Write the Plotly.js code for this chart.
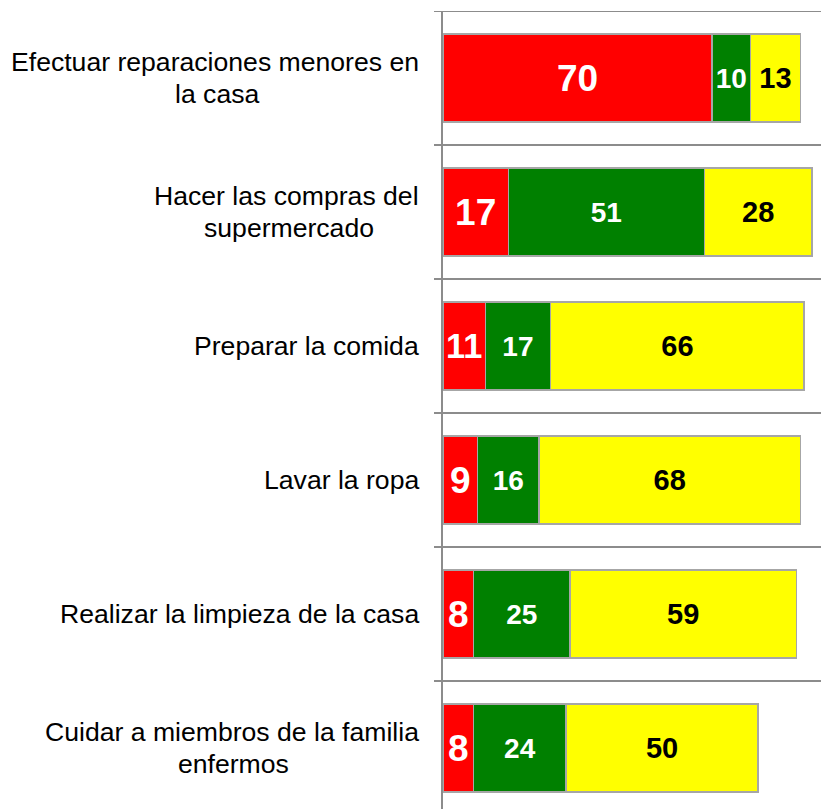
<!DOCTYPE html>
<html>
<head>
<meta charset="utf-8">
<script src="https://cdn.plot.ly/plotly-3.0.1.min.js"></script>
<style>
html, body { margin: 0; padding: 0; overflow: hidden; background: #ffffff; }
#chart { width: 821px; height: 815px; }
</style>
</head>
<body>
<div id="chart"></div>
<script>
const categories = [
  ["Efectuar reparaciones menores en", "la casa"],
  ["Hacer las compras del", "supermercado"],
  ["Preparar la comida"],
  ["Lavar la ropa"],
  ["Realizar la limpieza de la casa"],
  ["Cuidar a miembros de la familia", "enfermos"]
];
const redValues = [70, 17, 11, 9, 8, 8];
const greenValues = [10, 51, 17, 16, 25, 24];
const yellowValues = [13, 28, 66, 68, 59, 50];

const ids = categories.map((c, i) => i);
const outline = { color: "#a6a6a6", width: 1.5 };

function series(vals, color, txtColor, size) {
  return {
    type: "bar",
    orientation: "h",
    y: ids,
    x: vals,
    text: vals.map(String),
    textposition: "inside",
    insidetextanchor: "middle",
    textfont: { family: "Liberation Sans, Arial, sans-serif", size: size, color: txtColor, weight: "bold" },
    texttemplate: "<b>%{text}</b>",
    marker: { color: color, line: outline },
    width: 0.66,
    hoverinfo: "skip",
    showlegend: false
  };
}

const data = [
  series(redValues, "#ff0000", "#ffffff", 37),
  series(greenValues, "#008000", "#ffffff", 28),
  series(yellowValues, "#ffff00", "#000000", 29)
];

const shapes = [];
for (let k = 0; k <= categories.length; k++) {
  shapes.push({
    type: "line", xref: "paper", yref: "y",
    x0: -9 / 378, x1: 1, y0: k - 0.5, y1: k - 0.5,
    line: { color: "#8c8c8c", width: 2 }, layer: "below"
  });
}
shapes.push({
  type: "line", xref: "paper", yref: "paper",
  x0: -1 / 378, x1: -1 / 378, y0: 0, y1: 1,
  line: { color: "#8c8c8c", width: 2 }
});

const labelFont = { family: "Liberation Sans, Arial, sans-serif", size: 26.6, color: "#000000" };
const annotations = [];
categories.forEach((lines, i) => {
  if (lines.length === 1) {
    annotations.push({
      xref: "paper", yref: "y", x: 0, y: i,
      xanchor: "right", yanchor: "middle", xshift: -22, yshift: 0,
      text: lines[0], showarrow: false, font: labelFont
    });
  } else {
    // widest line is right-aligned at the block edge; others centred under it
    annotations.push({
      xref: "paper", yref: "y", x: 0, y: i,
      xanchor: "right", yanchor: "middle", xshift: -22, yshift: 16,
      text: lines[0], showarrow: false, font: labelFont
    });
    annotations.push({
      xref: "paper", yref: "y", x: 0, y: i,
      xanchor: "right", yanchor: "middle", xshift: -22, yshift: -16,
      text: lines[0] + "<br>" + lines[1], showarrow: false, font: labelFont,
      align: "center", opacity: 0, visible: false
    });
  }
});

const layout = {
  width: 821, height: 815,
  margin: { l: 443, r: 0, t: 11, b: 0, pad: 0 },
  paper_bgcolor: "#ffffff", plot_bgcolor: "#ffffff",
  barmode: "stack",
  xaxis: { range: [0, 98.36], visible: false, fixedrange: true },
  yaxis: { range: [categories.length - 0.5, -0.5], visible: false, fixedrange: true },
  shapes: shapes,
  annotations: annotations.filter(a => a.visible !== false),
  uniformtext: { mode: false }
};

Plotly.newPlot("chart", data, layout, { displayModeBar: false, staticPlot: true }).then(gd => {
  // Centre second lines under first lines: measure first-line width, then add second-line annotations
  const extra = [];
  const nodes = gd.querySelectorAll(".annotation-text");
  let idx = 0;
  categories.forEach((lines, i) => {
    const node = nodes[idx]; idx++;
    if (lines.length > 1) {
      const w = node.getBBox().width;
      extra.push({
        xref: "paper", yref: "y", x: 0, y: i,
        xanchor: "center", yanchor: "middle", xshift: -22 - w / 2, yshift: -16,
        text: lines[1], showarrow: false, font: labelFont
      });
    }
  });
  Plotly.relayout(gd, { annotations: layout.annotations.concat(extra) });
});
</script>
</body>
</html>
